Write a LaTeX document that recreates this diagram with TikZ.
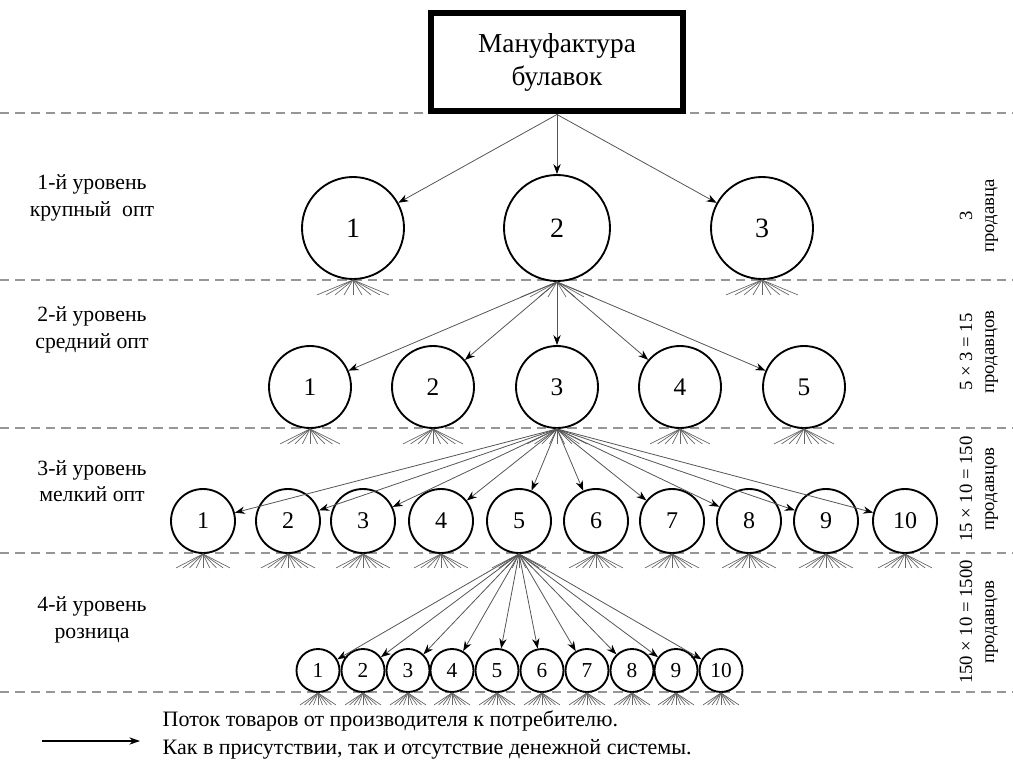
\documentclass[tikz,border=0pt]{standalone}
\usepackage{fontspec}
\setmainfont{Liberation Serif}
\usetikzlibrary{arrows.meta}
\begin{document}
\begin{tikzpicture}[x=0.75pt,y=0.75pt,yscale=-1,xscale=1,
        levelline/.style={draw={rgb, 255:red, 150; green, 150; blue, 150 }, line width=0.8pt, dash pattern=on 7pt off 4.5pt},
        seller/.style={circle, draw, line width=1.4pt, fill=white, inner sep=0pt},
        flow/.style={draw={rgb, 255:red, 85; green, 85; blue, 85 }, line width=0.6pt, -{Stealth[length=7.5pt,width=5.5pt,color=black]}},
        roots/.style={draw={rgb, 255:red, 100; green, 100; blue, 100 }, line width=0.5pt},
        lvltext/.style={font=\fontsize{16.3}{20}\selectfont, align=center},
        sidetext/.style={font=\fontsize{14}{16.5}\selectfont, align=center, rotate=90}]
        \useasboundingbox (0,0) rectangle (1013,763);
        % Level Lines
        \draw [levelline] (0,113) -- (1013,113) ;
        \draw [levelline] (0,280) -- (1013,280) ;
        \draw [levelline] (0,428) -- (1013,428) ;
        \draw [levelline] (0,553) -- (1013,553) ;
        \draw [levelline] (0,692) -- (1013,692) ;
        % Text Node
        \node [draw, line width=4.5pt, fill=white, minimum width=189pt, minimum height=73.5pt, align=center, font=\fontsize{20.5}{25}\selectfont] (man) at (557,62.5) {Мануфактура\\булавок};
        % Level 1
        \node [seller, minimum size=76.5pt, font=\fontsize{21}{24}\selectfont] (a1) at (353,228) {1};
        \node [seller, minimum size=79.5pt, font=\fontsize{21}{24}\selectfont] (a2) at (557,228) {2};
        \node [seller, minimum size=76.5pt, font=\fontsize{21}{24}\selectfont] (a3) at (762,228) {3};
        % Level 2
        \foreach \i/\x in {1/310,2/433,3/557,4/680,5/804}
            \node [seller, minimum size=61.5pt, font=\fontsize{19}{22}\selectfont] (b\i) at (\x,387) {\i};
        % Level 3
        \foreach \i/\x in {1/203,2/288,3/363,4/441,5/519,6/596,7/672,8/749,9/826,10/905}
            \node [seller, minimum size=48pt, font=\fontsize{18}{20}\selectfont] (c\i) at (\x,521) {\i};
        % Level 4
        \foreach \i/\x in {1/318,2/363,3/408,4/452,5/497,6/542,7/587,8/632,9/676,10/721}
            \node [seller, minimum size=32.25pt, font=\fontsize{16}{19}\selectfont] (d\i) at (\x,670.5) {\i};
        % Roots
        \foreach \n in {a1,a2,a3}
            \foreach \k in {-4,...,4} \draw [roots] (\n.south) -- ++(9*\k,15) ;
        \foreach \i in {1,...,5}
            \foreach \k in {-4,...,4} \draw [roots] (b\i.south) -- ++(7.5*\k,15) ;
        \foreach \i in {1,...,10}
            \foreach \k in {-4,...,4} \draw [roots] (c\i.south) -- ++(6.75*\k,14) ;
        \foreach \i in {1,...,10}
            \foreach \k in {-4,...,4} \draw [roots] (d\i.south) -- ++(4.5*\k,12) ;
        % Connection
        \foreach \n in {a1,a2,a3} \draw [flow] (man.south) -- (\n) ;
        \foreach \i in {1,...,5} \draw [flow] (a2.south) -- (b\i) ;
        \foreach \i in {1,...,10} \draw [flow] (b3.south) -- (c\i) ;
        \foreach \i in {1,...,10} \draw [flow] (c5.south) -- (d\i) ;
        % Text Node
        \node [lvltext] (t1) at (92,198) {1-й уровень\\крупный\ \ опт};
        \node [lvltext] (t2) at (92,330) {2-й уровень\\средний опт};
        \node [lvltext] (t3) at (92,481) {3-й уровень\\мелкий опт};
        \node [lvltext] (t4) at (92,620) {4-й уровень\\розница};
        % Text Node
        \node [sidetext] (s1) at (979,216) {3\\продавца};
        \node [sidetext] (s2) at (979,352) {5 × 3 = 15\\продавцов};
        \node [sidetext] (s3) at (979,489) {15 × 10 = 150\\продавцов};
        \node [sidetext] (s4) at (979,622) {150 × 10 = 1500\\продавцов};
        % Legend
        \coordinate (legA) at (42,741);
        \coordinate (legB) at (140,741);
        \draw [line width=0.8pt, -{Stealth[length=8pt,width=5.5pt]}] (legA) -- (legB) ;
        \node [anchor=west, align=left, font=\fontsize{16.5}{20.5}\selectfont] (legtext) at (158,735) {Поток товаров от производителя к потребителю.\\Как в присутствии, так и отсутствие денежной системы.};
    \end{tikzpicture}
\end{document}
